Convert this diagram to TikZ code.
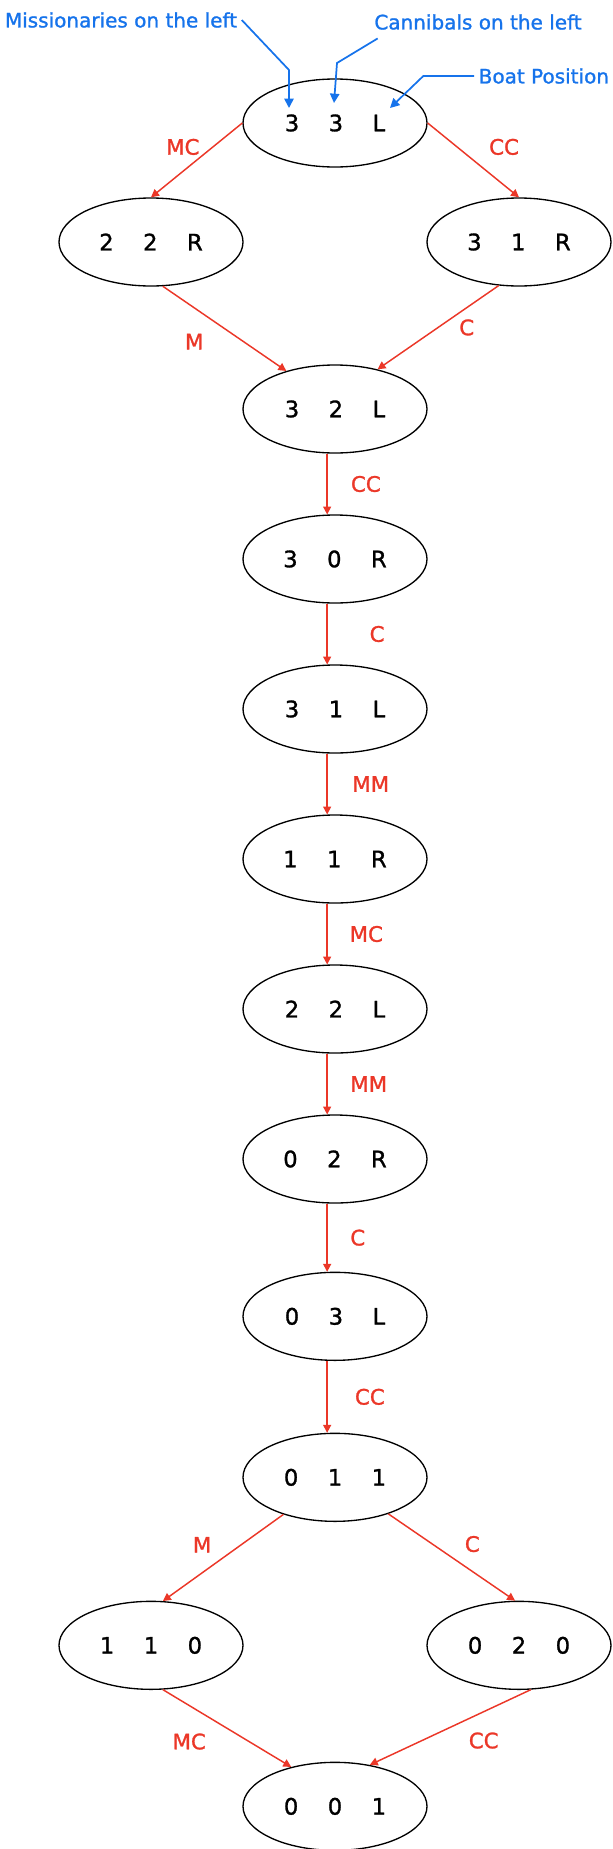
\documentclass[tikz,border=0pt]{standalone}
\usepackage{fontspec}
\setmainfont{DejaVu Sans}
\newfontfamily\handfont[FakeBold=1.2]{DejaVu Sans}
\usepackage{xcolor}
\usetikzlibrary{shapes.geometric, arrows.meta, positioning}
\definecolor{movered}{RGB}{235,55,40}
\definecolor{noteblue}{RGB}{22,115,235}
\newcommand{\stgap}{\hspace{1.3em}}

\begin{document}
\begin{tikzpicture}[
    node distance=112.5pt,
    state/.style={ellipse, draw, line width=1pt, on grid, minimum width=138pt, minimum height=66pt, inner sep=0pt, font=\handfont\fontsize{17}{20}\selectfont},
    move/.style={text=movered, font=\handfont\fontsize{16}{19}\selectfont},
    note/.style={text=noteblue, font=\handfont\fontsize{15}{18}\selectfont},
    arrow/.style={draw=movered, line width=1.1pt, -{Triangle[length=6pt,width=6pt]}},
    pointer/.style={draw=noteblue, line width=1.3pt, -{Triangle[length=7pt,width=7pt]}}
]
\useasboundingbox (0,0) rectangle (459pt,-1386.75pt);

% Start state
\node[state] (s33L) at (251.25pt,-92.25pt) {3\stgap 3\stgap L};

% First crossings
\node[state, below left=89.25pt and 138pt of s33L] (s22R) {2\stgap 2\stgap R};
\node[state, below right=89.25pt and 138pt of s33L] (s31R) {3\stgap 1\stgap R};

% Main chain
\node[state, below right=125.25pt and 138pt of s22R] (s32L) {3\stgap 2\stgap L};
\node[state, below=of s32L] (s30R) {3\stgap 0\stgap R};
\node[state, below=of s30R] (s31L) {3\stgap 1\stgap L};
\node[state, below=of s31L] (s11R) {1\stgap 1\stgap R};
\node[state, below=of s11R] (s22L) {2\stgap 2\stgap L};
\node[state, below=of s22L] (s02R) {0\stgap 2\stgap R};
\node[state, below=118pt of s02R] (s03L) {0\stgap 3\stgap L};
\node[state, below=120.75pt of s03L] (s011) {0\stgap 1\stgap 1};

% Last crossings
\node[state, below left=126pt and 138pt of s011] (s110) {1\stgap 1\stgap 0};
\node[state, below right=126pt and 138pt of s011] (s020) {0\stgap 2\stgap 0};
\node[state, below right=120.75pt and 138pt of s110] (s001) {0\stgap 0\stgap 1};

% Moves
\draw[arrow] (s33L.west) -- node[move, above left, xshift=6pt] {MC} (s22R.north);
\draw[arrow] (s33L.east) -- node[move, above right, xshift=8pt] {CC} (s31R.north);
\draw[arrow] (s22R.-75) -- node[move, below left, xshift=-12pt] {M} (s32L.142);
\draw[arrow] (s31R.-115) -- node[move, right, xshift=12pt] {C} (s32L.43);
\draw[arrow] (s32L.260) -- node[move, right, xshift=14pt] {CC} (s30R.100);
\draw[arrow] (s30R.260) -- node[move, right, xshift=28pt] {C} (s31L.100);
\draw[arrow] (s31L.260) -- node[move, right, xshift=15pt] {MM} (s11R.100);
\draw[arrow] (s11R.260) -- node[move, right, xshift=13pt] {MC} (s22L.100);
\draw[arrow] (s22L.260) -- node[move, right, xshift=13.5pt] {MM} (s02R.100);
\draw[arrow] (s02R.260) -- node[move, right, xshift=13.5pt] {C} (s03L.100);
\draw[arrow] (s03L.260) -- node[move, right, xshift=17pt] {CC} (s011.100);
\draw[arrow] (s011) -- node[move, above left, xshift=-5pt] {M} (s110.75);
\draw[arrow] (s011) -- node[move, above right, xshift=6pt] {C} (s020.95);
\draw[arrow] (s110.-75) -- node[move, below left, xshift=-12pt] {MC} (s001.138);
\draw[arrow] (s020.-75) -- node[move, below right, xshift=10pt] {CC} (s001.50);

% Annotations
\node[note] (lblM) at (90.75pt,-15pt) {Missionaries on the left};
\node[note] (lblC) at (358.5pt,-16.5pt) {Cannibals on the left};
\node[note, anchor=west] (lblB) at (355.5pt,-57pt) {Boat Position};
\coordinate (tipM) at ([shift={(-34.5pt,11.25pt)}]s33L.center);
\coordinate (tipC) at ([shift={(-0.75pt,15pt)}]s33L.center);
\coordinate (tipB) at ([shift={(41.25pt,11.25pt)}]s33L.center);
\draw[pointer] (lblM.east) -- ([yshift=28.5pt]tipM) -- (tipM);
\draw[pointer] ([xshift=6pt,yshift=-3pt]lblC.south west) -- ([xshift=2.25pt,yshift=30pt]tipC) -- (tipC);
\draw[pointer] (lblB.west) -- ++(-38pt,0) -- (tipB);

\end{tikzpicture}
\end{document}
